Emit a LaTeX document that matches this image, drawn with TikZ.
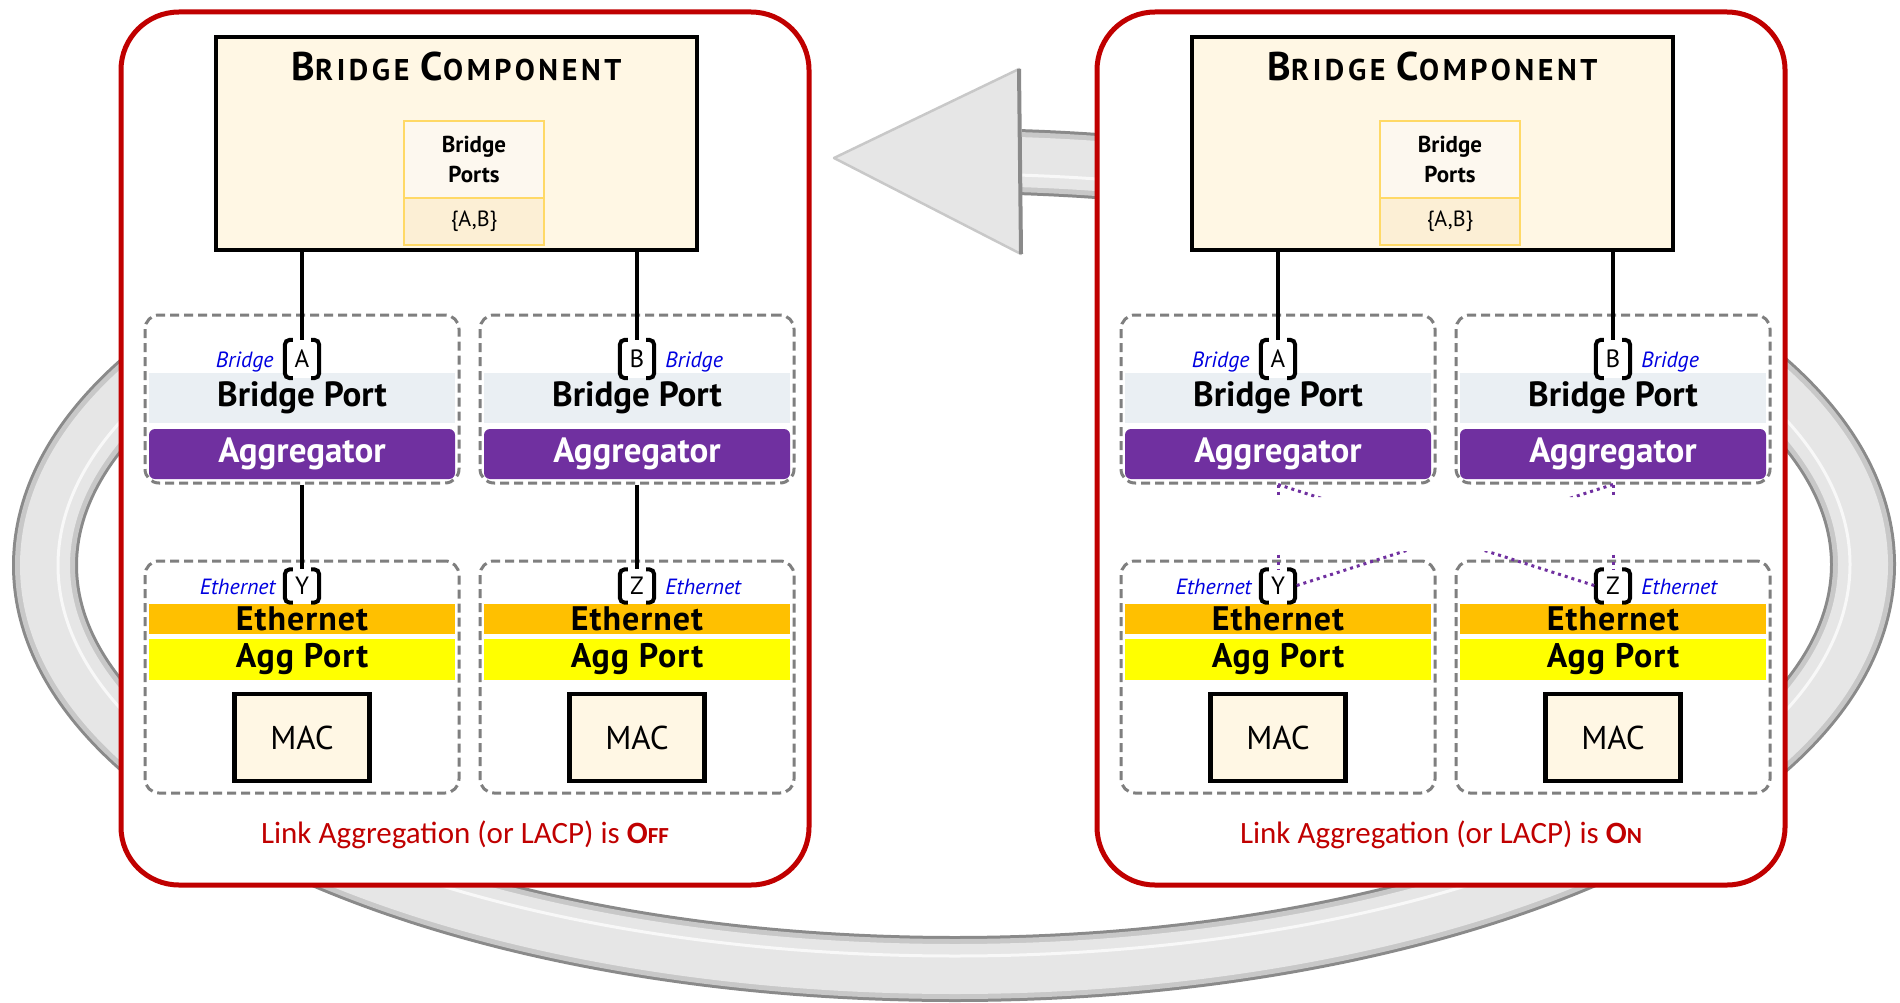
\documentclass[tikz,border=0pt]{standalone}
\usepackage{fontspec}
\setmainfont{PT Sans}
\newfontfamily\capfont{Carlito}
\usetikzlibrary{positioning}

\definecolor{lagred}{HTML}{C00000}
\definecolor{bccream}{HTML}{FFF7E4}
\definecolor{bpgold}{HTML}{FFD966}
\definecolor{bptop}{HTML}{FDF8EF}
\definecolor{bpbot}{HTML}{FCEFD5}
\definecolor{bpgray}{HTML}{EAEFF3}
\definecolor{aggpurple}{HTML}{7030A0}
\definecolor{ethorange}{HTML}{FFC000}
\definecolor{aggyellow}{HTML}{FFFF00}
\definecolor{dashgray}{HTML}{7F7F7F}
\definecolor{portblue}{HTML}{0000E0}
\definecolor{ringfill}{HTML}{E6E6E6}
\definecolor{ringmid}{HTML}{C8C8C8}
\definecolor{ringedge}{HTML}{8A8A8A}

\newcommand{\titlebig}{\fontsize{40}{44}\selectfont\bfseries\addfontfeatures{LetterSpace=10}}
\newcommand{\titlesml}{\fontsize{30}{33}\selectfont\bfseries\addfontfeatures{LetterSpace=12}}
\newcommand{\bandfont}{\fontsize{35}{37}\selectfont\bfseries}
\newcommand{\thinband}{\fontsize{34}{35}\selectfont\bfseries\addfontfeatures{LetterSpace=3}}
\newcommand{\cellfont}{\fontsize{23}{30}\selectfont\bfseries}
\newcommand{\portfont}{\fontsize{25}{28}\selectfont}
\newcommand{\lblfont}{\fontsize{22}{26}\selectfont\itshape}
\newcommand{\macfont}{\fontsize{33}{36}\selectfont}
\newcommand{\capsize}{\fontsize{31}{34}\selectfont}
\newcommand{\capsml}{\fontsize{23}{26}\selectfont}

\begin{document}
\begin{tikzpicture}[x=1pt,y=-1pt,
  lagpanel/.style={draw=lagred, line width=5pt, rounded corners=58pt, fill=white,
    inner sep=0pt, minimum width=688pt, minimum height=873pt},
  bcbox/.style={draw=black, line width=4.5pt, fill=bccream, inner sep=0pt,
    minimum width=481pt, minimum height=213pt},
  bpcell/.style={draw=bpgold, line width=2pt, inner sep=0pt, minimum width=140pt, align=center},
  dashbox/.style={draw=dashgray, line width=3pt, dash pattern=on 9pt off 5pt,
    rounded corners=14pt, inner sep=0pt, minimum width=314pt},
  band/.style={inner sep=0pt, minimum width=306pt},
  macbox/.style={draw=black, line width=4.5pt, fill=bccream, inner sep=0pt,
    minimum width=135pt, minimum height=87pt, font=\macfont},
  portbox/.style={fill=white, inner sep=0pt, minimum width=34pt, font=\portfont},
  portbrk/.style={line width=4pt, rounded corners=5pt},
  portlbl/.style={inner sep=0pt, text=portblue, font=\lblfont},
  wire/.style={line width=4pt},
  lacpdot/.style={draw=aggpurple, line width=3pt, dash pattern=on 3pt off 4pt},
  captxt/.style={inner sep=0pt, text=lagred, font=\capfont\capsize},
  ringpart/.style={line width=#1}
]
\useasboundingbox (0,0) rectangle (1900,1003);

% ring arrow behind the two panels
\coordinate (ringc) at (954,565);
\foreach \w/\c in {66/ringedge, 60/ringmid, 50/ringfill}
  \draw[ringpart=\w pt, \c] ([shift={(-85.8:909 and 404)}]ringc)
    arc[start angle=-85.8, end angle=260, x radius=909, y radius=404];
\draw[white!70!ringfill, line width=3pt] ([shift={(-85.8:896 and 391)}]ringc)
  arc[start angle=-85.8, end angle=260, x radius=896, y radius=391];
\filldraw[fill=ringfill, draw=ringmid, line width=2.5pt, line join=round] (834,158) -- (1019,69) -- (1021,254) -- cycle;
\draw[ringedge, line width=4pt] (1019,69) -- (1021,254);

% the two panels
\foreach \p/\dx/\st in {L/0/{\bfseries O\capsml FF}, R/976/{\bfseries O\capsml N}} {
\begin{scope}[xshift=\dx]
  \node[lagpanel] (\p panel) at (465,448.5) {};
  \node[bcbox] (\p bc) at (456.5,143.5) {};
  \node[anchor=base, inner sep=0pt] (\p title) at (456.5,81)
    {\titlebig B\titlesml RIDGE \titlebig C\titlesml OMPONENT};
  \node[bpcell, fill=bptop, minimum height=77pt, font=\cellfont] (\p bps) at (474,159.5) {Bridge\\Ports};
  \node[bpcell, fill=bpbot, minimum height=47pt, font=\fontsize{22}{24}\selectfont] (\p bpset) at (474,221.5) {\{A,B\}};

  % upper boxes: bridge port over aggregator
  \node[dashbox, minimum height=168pt] (\p up1) at (302,399) {};
  \node[dashbox, minimum height=168pt] (\p up2) at (637,399) {};
  \node[band, fill=bpgray, minimum height=50pt, font=\bandfont] (\p bport1) at (302,398) {Bridge Port};
  \node[band, fill=bpgray, minimum height=50pt, font=\bandfont] (\p bport2) at (637,398) {Bridge Port};
  \node[band, fill=aggpurple, rounded corners=6pt, minimum height=50pt, text=white, font=\bandfont] (\p agg1) at (302,454) {Aggregator};
  \node[band, fill=aggpurple, rounded corners=6pt, minimum height=50pt, text=white, font=\bandfont] (\p agg2) at (637,454) {Aggregator};

  % lower boxes: ethernet, agg port, mac
  \node[dashbox, minimum height=232pt] (\p lo1) at (302,677) {};
  \node[dashbox, minimum height=232pt] (\p lo2) at (637,677) {};
  \node[band, fill=ethorange, minimum height=30pt, font=\thinband] (\p eth1) at (302,619) {Ethernet};
  \node[band, fill=ethorange, minimum height=30pt, font=\thinband] (\p eth2) at (637,619) {Ethernet};
  \node[band, fill=aggyellow, minimum height=41pt, font=\thinband] (\p ap1) at (302,659.5) {Agg Port};
  \node[band, fill=aggyellow, minimum height=41pt, font=\thinband] (\p ap2) at (637,659.5) {Agg Port};
  \node[macbox] (\p mac1) at (302,737.5) {MAC};
  \node[macbox] (\p mac2) at (637,737.5) {MAC};

  % ports in brackets
  \foreach \n/\cx/\cy/\h in {A/302/359/38, B/637/359/38, Y/302/586/33, Z/637/586/33} {
    \node[portbox, minimum height=\h pt] (\p\n) at (\cx,\cy) {\n};
    \draw[portbrk] ([xshift=8pt]\p\n.north west) -- (\p\n.north west) -- (\p\n.south west) -- ([xshift=8pt]\p\n.south west);
    \draw[portbrk] ([xshift=-8pt]\p\n.north east) -- (\p\n.north east) -- (\p\n.south east) -- ([xshift=-8pt]\p\n.south east);
  }
  \node[portlbl, base left=11pt of \p A] (\p lblA) {Bridge};
  \node[portlbl, base right=11pt of \p B] (\p lblB) {Bridge};
  \node[portlbl, base left=9pt of \p Y] (\p lblY) {Ethernet};
  \node[portlbl, base right=11pt of \p Z] (\p lblZ) {Ethernet};

  \draw[wire] (\p bc.south -| \p A) -- (\p A.north);
  \draw[wire] (\p bc.south -| \p B) -- (\p B.north);

  \node[captxt] (\p cap) at (465,835) {Link Aggregation (or LACP) is \st};
\end{scope}
}

% LACP off: one aggregator per port
\draw[wire] (Lup1.south) -- (LY.north);
\draw[wire] (Lup2.south) -- (LZ.north);

% LACP on: any aggregator may take either port
\begin{scope}
  \clip (1090,470) rectangle (1790,497) (1090,551) rectangle (1790,620);
  \draw[lacpdot] (Rup1.south) -- (RY.north);
  \draw[lacpdot] (Rup1.south) -- (RZ.west);
  \draw[lacpdot] (Rup2.south) -- (RY.east);
  \draw[lacpdot] (Rup2.south) -- (RZ.north);
\end{scope}
\end{tikzpicture}
\end{document}
